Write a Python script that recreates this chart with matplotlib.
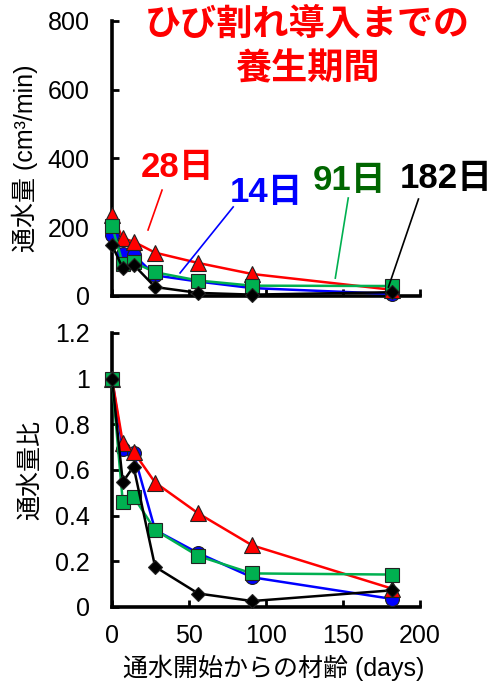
import matplotlib
matplotlib.use('Agg')
import matplotlib.pyplot as plt

plt.rcParams['font.family'] = ['Liberation Sans', 'Noto Sans CJK JP', 'DejaVu Sans']

# curing period before cracking -> flow over elapsed days
days = [0, 7, 14, 28, 56, 91, 182]

flow_14 = [177, 122, 120, 60, 42, 23, 6]
flow_28 = [236, 168, 158, 126, 96, 64, 18]
flow_91 = [204, 94, 98, 69, 45, 30, 29]
flow_182 = [148, 81, 91, 26, 9, 4, 11]

ratio_14 = [1.0, 0.69, 0.675, 0.337, 0.236, 0.13, 0.035]
ratio_28 = [1.0, 0.72, 0.68, 0.545, 0.41, 0.27, 0.08]
ratio_91 = [1.0, 0.46, 0.483, 0.337, 0.223, 0.147, 0.142]
ratio_182 = [1.0, 0.547, 0.615, 0.176, 0.059, 0.026, 0.073]

top_ticks = [0, 200, 400, 600, 800]
top_ticklabels = ['0', '200', '400', '600', '800']
bot_ticks = [0, 0.2, 0.4, 0.6, 0.8, 1.0, 1.2]
bot_ticklabels = ['0', '0.2', '0.4', '0.6', '0.8', '1', '1.2']
x_ticks = [0, 50, 100, 150, 200]

GREEN = '#00b050'
DARKGREEN = '#006600'

styles = [
    # (top series, bottom series, line colour, marker, face, size)
    (flow_14, ratio_14, '#0000ff', 'o', '#0000ff', 10),
    (flow_28, ratio_28, '#ff0000', '^', '#ff0000', 11),
    (flow_91, ratio_91, GREEN, 's', GREEN, 10.5),
    (flow_182, ratio_182, '#000000', 'D', '#000000', 7.5),
]

fig = plt.figure(figsize=(4.96, 6.85), dpi=100)
ax1 = fig.add_axes([0.2258, 0.5679, 0.621, 0.4015])
ax2 = fig.add_axes([0.2258, 0.1139, 0.621, 0.4000])

for top, bot, col, mk, face, ms in styles:
    for ax, ys in ((ax1, top), (ax2, bot)):
        ax.plot(days, ys, color=col, lw=1.8, marker=mk, markersize=ms,
                markerfacecolor=face, markeredgecolor='#222222',
                markeredgewidth=0.8, clip_on=False, zorder=3)

for ax in (ax1, ax2):
    ax.set_xlim(0, 200)
    ax.set_xticks(x_ticks)
    ax.spines['top'].set_visible(False)
    ax.spines['right'].set_visible(False)
    ax.spines['left'].set_linewidth(2.6)
    ax.spines['bottom'].set_linewidth(2.6)
    ax.tick_params(direction='in', length=5, width=2, labelsize=18, pad=16)

ax1.set_ylim(0, 800)
ax1.set_yticks(top_ticks)
ax1.set_yticklabels(top_ticklabels)
ax1.tick_params(axis='x', labelbottom=False)
ax1.set_ylabel('通水量 (cm³/min)', fontsize=18, va='center', ha='center')
ax1.yaxis.set_label_coords(-0.282, 0.5)

ax2.set_ylim(0, 1.2)
ax2.set_yticks(bot_ticks)
ax2.set_yticklabels(bot_ticklabels)
ax2.tick_params(axis='x', pad=12)
ax2.set_ylabel('通水量比', fontsize=18, va='center', ha='center')
ax2.yaxis.set_label_coords(-0.266, 0.5)
ax2.set_xlabel('通水開始からの材齢 (days)', fontsize=18, va='center', ha='center')
ax2.xaxis.set_label_coords(0.526, -0.223)

# title inside the figure
fig.text(0.619, 0.9635, 'ひび割れ導入までの', color='#ff0000', fontsize=26,
         fontweight='bold', ha='center', va='center')
fig.text(0.619, 0.898, '養生期間', color='#ff0000', fontsize=26,
         fontweight='bold', ha='center', va='center')

# series labels with leader lines
labels = [
    ('28日', '#ff0000', '#ff0000', (42.4, 375), (32.5, 308), (23.4, 192)),
    ('14日', '#0000ff', '#0000ff', (100, 300), (78.7, 259), (44.2, 67)),
    ('91日', DARKGREEN, GREEN, (154, 337), (153.4, 285), (145, 52)),
    ('182日', '#000000', '#000000', (217, 343), (199, 282), (179.5, 26)),
]
for txt, tcol, lcol, tpos, p0, p1 in labels:
    ax1.text(tpos[0], tpos[1], txt, color=tcol, fontsize=25, fontweight='bold',
             ha='center', va='center', clip_on=False)
    ax1.plot([p0[0], p1[0]], [p0[1], p1[1]], color=lcol, lw=1.2,
             clip_on=False, zorder=4)

fig.savefig('out.png', dpi=100)
